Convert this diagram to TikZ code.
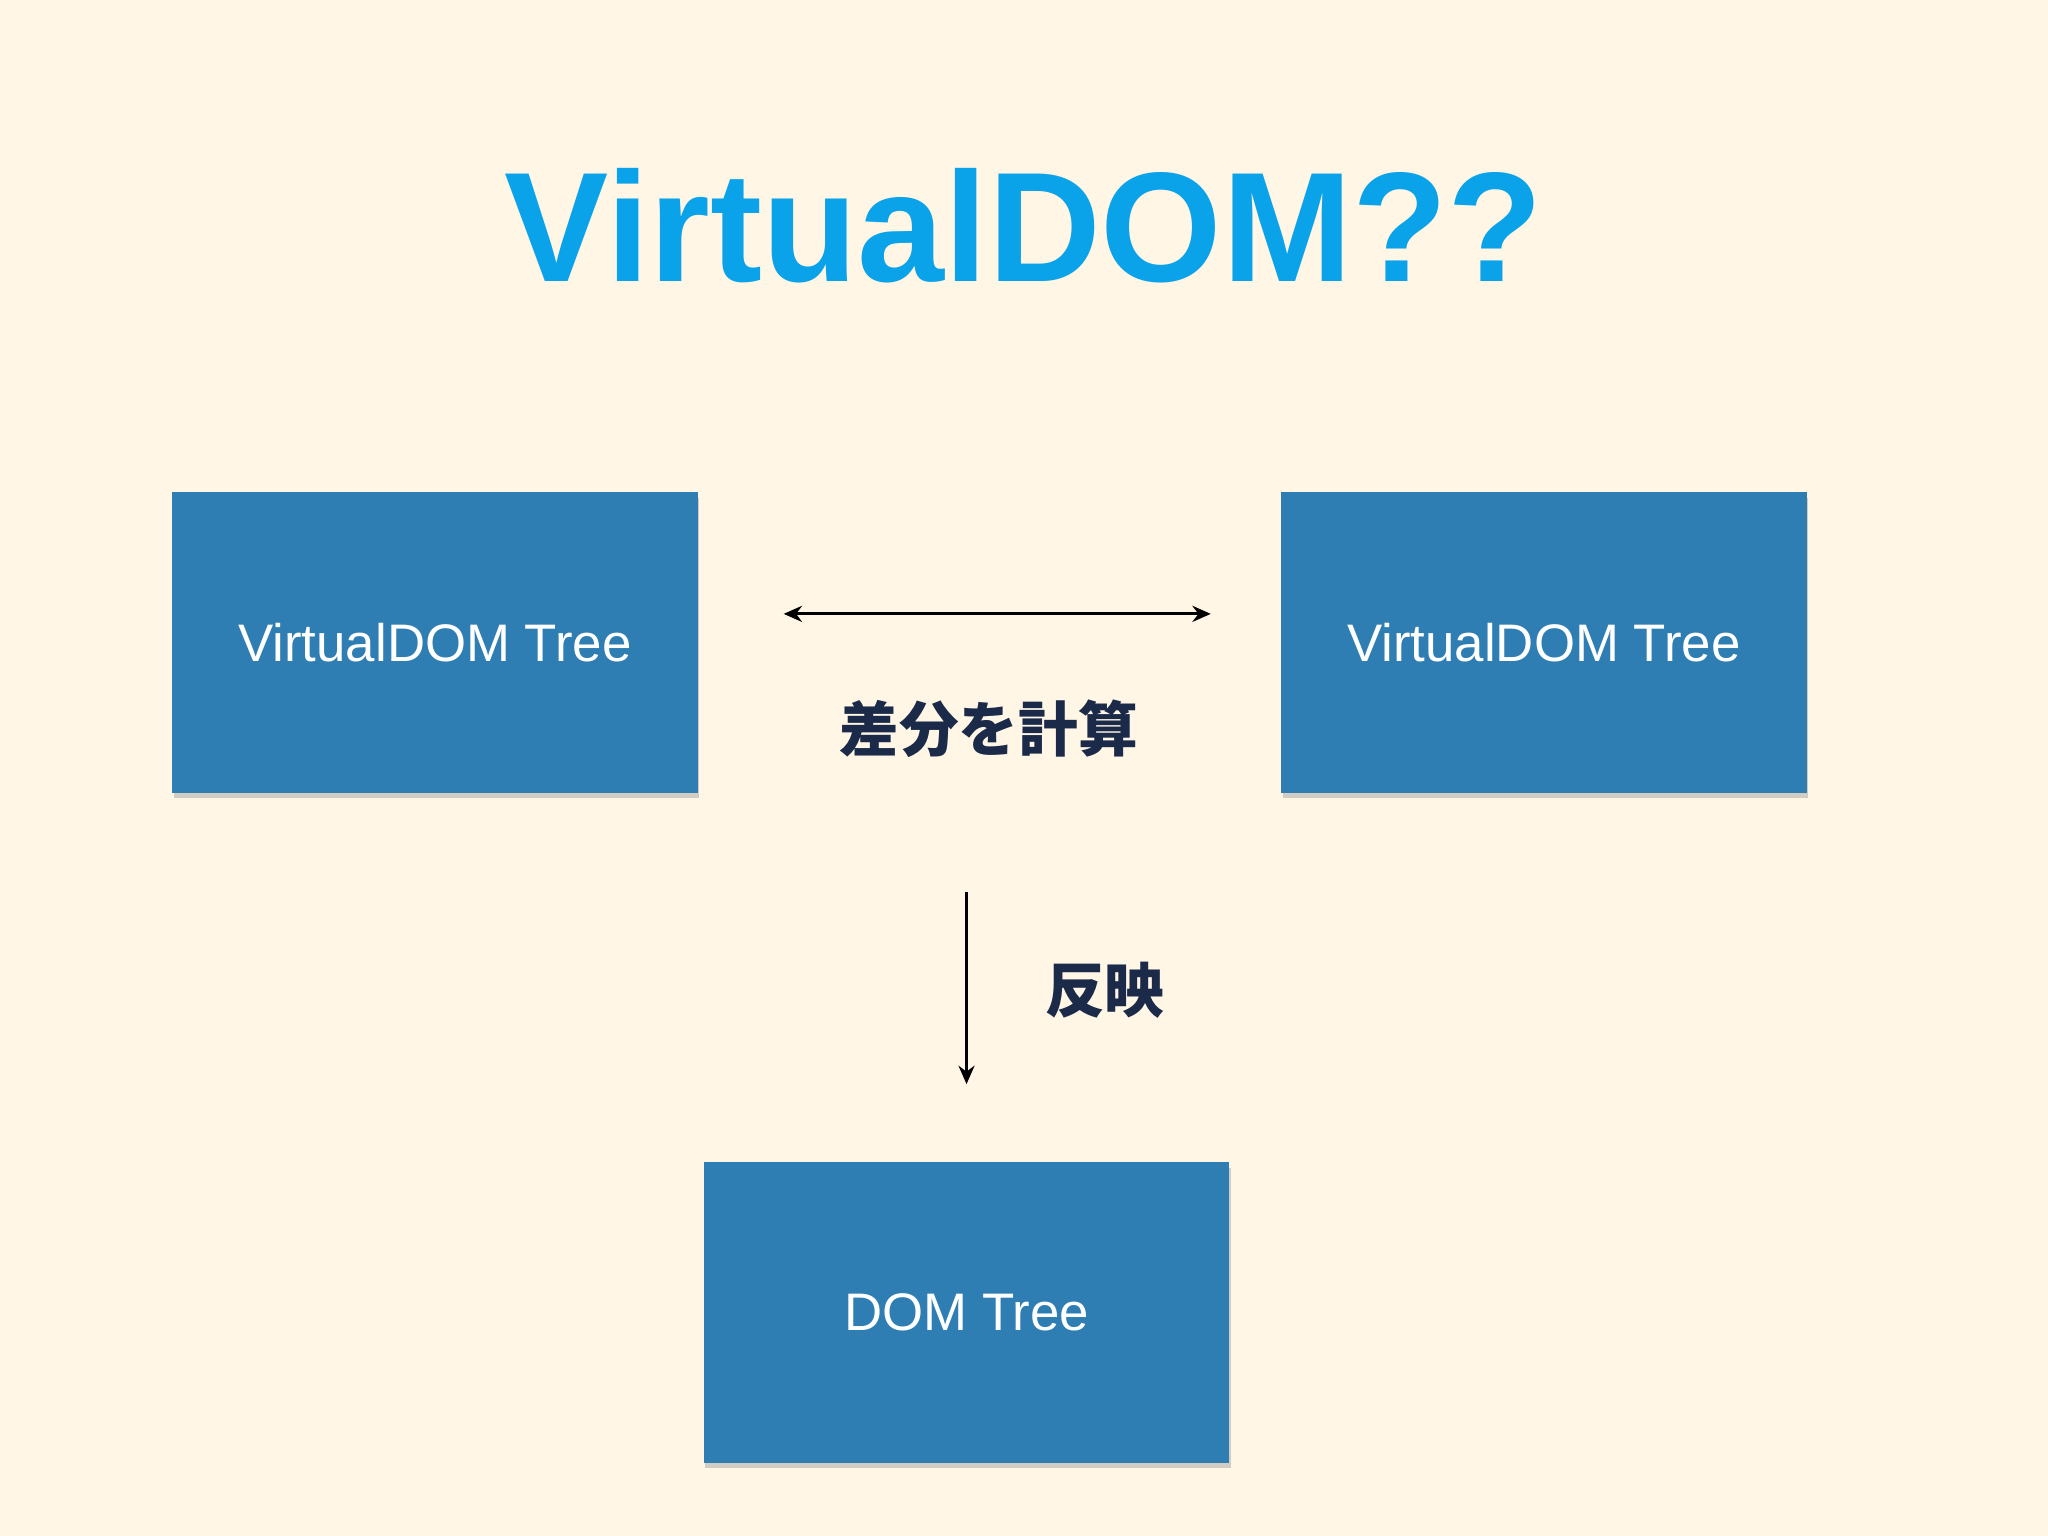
\documentclass[tikz,border=0pt]{standalone}
\usepackage{fontspec}
\setmainfont{Liberation Sans}
\newfontfamily\cjk{Noto Sans CJK JP}
\usetikzlibrary{arrows.meta,shadows}
\definecolor{bg}{HTML}{FFF6E6}
\definecolor{boxc}{HTML}{2E7DB3}
\definecolor{titlec}{HTML}{0AA2E8}
\definecolor{navy}{HTML}{1A2A48}
\begin{document}
\begin{tikzpicture}[x=0.01cm,y=-0.01cm,
  treebox/.style={fill=boxc,draw=none,minimum width=4.02cm,minimum height=2.30cm,inner sep=0pt,
    text=white,font=\fontsize{11.5pt}{13pt}\selectfont,drop shadow={shadow xshift=0.3pt,shadow yshift=-1.2pt,opacity=0.35}},
  lab/.style={text=navy,font=\cjk\bfseries\fontsize{13pt}{15pt}\selectfont},
  conn/.style={draw=black,line width=0.6pt,-{Stealth[length=4pt,width=3.5pt]}}]
\fill[bg] (0,0) rectangle (1568,1176);
\useasboundingbox (0,0) rectangle (1568,1176);
\node[text=titlec,font=\bfseries\fontsize{34pt}{38pt}\selectfont] (title) at (784,173) {VirtualDOM??};
\node[treebox] (v1) at (333,492) {VirtualDOM Tree};
\node[treebox] (v2) at (1182,492) {VirtualDOM Tree};
\node[treebox] (dom) at (740,1005) {DOM Tree};
\coordinate (hl) at (600,470);
\coordinate (hr) at (927,470);
\coordinate (vt) at (740,683);
\coordinate (vb) at (740,830);
\draw[conn,{Stealth[length=4pt,width=3.5pt]}-{Stealth[length=4pt,width=3.5pt]}] (hl) -- (hr);
\draw[conn] (vt) -- (vb);
\node[lab] (diff) at (757,558) {差分を計算};
\node[lab] (refl) at (846,758) {反映};
\end{tikzpicture}
\end{document}
